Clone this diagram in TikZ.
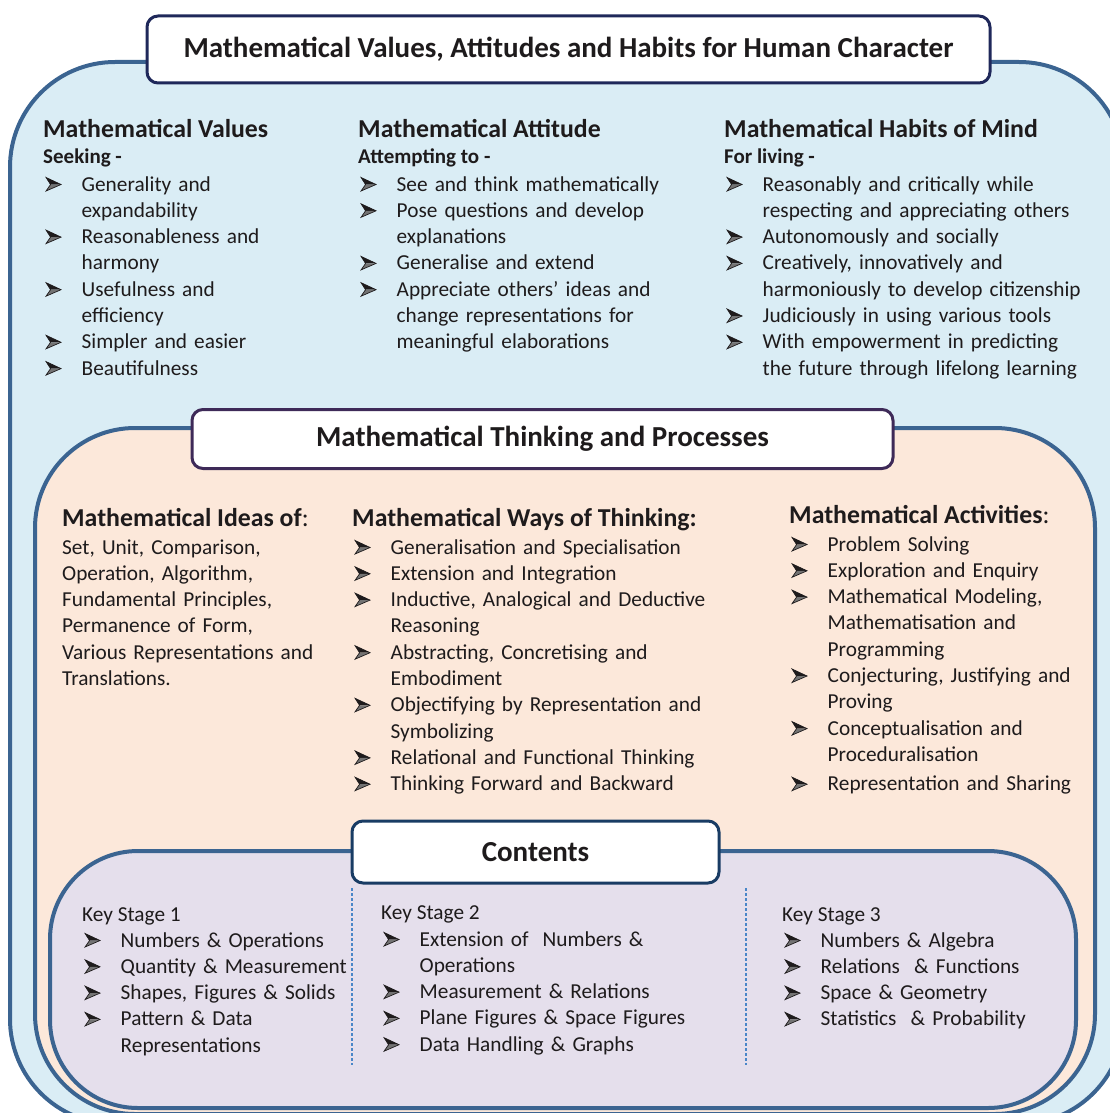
\documentclass[tikz,border=0pt]{standalone}
\usepackage{fontspec}
\setmainfont{Carlito}
\definecolor{outerfill}{RGB}{218,237,245}
\definecolor{peachfill}{RGB}{252,232,218}
\definecolor{lavfill}{RGB}{229,223,236}
\definecolor{bordblue}{RGB}{59,100,145}
\definecolor{tnavy}{RGB}{31,40,90}
\definecolor{tpurple}{RGB}{62,42,88}
\definecolor{tblue}{RGB}{25,60,100}
\definecolor{txt}{RGB}{30,27,28}
\definecolor{dashblue}{RGB}{74,134,200}
\newcommand\arrowglyph{\tikz[baseline=0pt,x=1pt,y=1pt]{%
  \fill[txt] (0,13.5) -- (15,6.5) -- (4.5,6.5) -- cycle;
  \fill[black!55] (0,0) -- (15,6.5) -- (4.5,6.5) -- cycle;
  \draw[txt, line width=0.7pt, line join=miter] (0,0) -- (15,6.5) -- (0,13.5) -- (4.5,6.5) -- cycle;}}
\newcommand\bul{\makebox[38.5pt][l]{\hspace{2.5pt}\arrowglyph}}
\newcommand\nl{\hfil\break}
\newcommand\itm[1]{\noindent\hangindent=38.5pt\hangafter=1\bul #1\par}
\tikzset{
  region/.style={line width=4pt, draw=bordblue},
  titlebox/.style={draw, fill=white, line width=3pt, rounded corners=11pt, inner sep=0pt,
    font=\bfseries\fontsize{29}{34}\selectfont, text=txt},
  heading/.style={anchor=base west, inner sep=0pt, text=txt, font=\bfseries\fontsize{25.8}{30}\selectfont},
  subhead/.style={anchor=base west, inner sep=0pt, text=txt, font=\bfseries\fontsize{21}{25}\selectfont},
  plain/.style={anchor=base west, inner sep=0pt, text=txt, font=\fontsize{21.3}{25}\selectfont},
  listbox/.style={anchor=base west, inner sep=0pt, text=txt, text width=380pt,
    font=\fontsize{21.3}{26.3}\selectfont\raggedright},
  sep/.style={draw=dashblue, line width=1.3pt, dash pattern=on 3pt off 2pt}
}
\begin{document}
\begin{tikzpicture}[x=1pt,y=-1pt]
\useasboundingbox (0,0) rectangle (1110,1113);
% regions
\path[region, fill=outerfill, rounded corners=105pt] (10,62) rectangle (1124,1124);
\path[region, fill=peachfill, rounded corners=100pt] (35,428) rectangle (1095,1114);
\node[titlebox, draw=tnavy, minimum width=843pt, minimum height=67pt] (t1) at (568.5,49.5)
  {Mathematical Values, Attitudes and Habits for Human Character};
\node[titlebox, draw=tpurple, minimum width=701pt, minimum height=59pt] (t2) at (542.5,439)
  {Mathematical Thinking and Processes};
\path[region, fill=lavfill, rounded corners=88pt] (50,851) rectangle (1076,1108);
\node[titlebox, draw=tblue, minimum width=367pt, minimum height=62pt] (t3) at (535.5,852)
  {Contents};
\coordinate (s1a) at (352,888); \coordinate (s1b) at (352,1065);
\coordinate (s2a) at (746,888); \coordinate (s2b) at (746,1065);
\draw[sep] (s1a) -- (s1b);
\draw[sep] (s2a) -- (s2b);
% top section
\node[heading] (h1) at (43,137) {Mathematical Values};
\node[subhead] (sh1) at (43,164) {Seeking -};
\node[listbox] (l1) at (43,191) {%
\itm{Generality and\nl expandability}%
\itm{Reasonableness and\nl harmony}%
\itm{Usefulness and\nl efficiency}%
\itm{Simpler and easier}%
\itm{Beautifulness}};
\node[heading] (h2) at (358,137) {Mathematical Attitude};
\node[subhead] (sh2) at (358,164) {Attempting to -};
\node[listbox] (l2) at (358,191) {%
\itm{See and think mathematically}%
\itm{Pose questions and develop\nl explanations}%
\itm{Generalise and extend}%
\itm{Appreciate others’ ideas and\nl change representations for\nl meaningful elaborations}};
\node[heading] (h3) at (724,137) {Mathematical Habits of Mind};
\node[subhead] (sh3) at (724,164) {For living -};
\node[listbox] (l3) at (724,191) {%
\itm{Reasonably and critically while\nl respecting and appreciating others}%
\itm{Autonomously and socially}%
\itm{Creatively, innovatively and\nl harmoniously to develop citizenship}%
\itm{Judiciously in using various tools}%
\itm{With empowerment in predicting\nl the future through lifelong learning}};
% middle section
\node[heading] (h4) at (62,526) {Mathematical Ideas of\mdseries:};
\node[listbox] (l4) at (62,554) {%
Set, Unit, Comparison,\nl Operation, Algorithm,\nl Fundamental Principles,\nl Permanence of Form,\nl Various Representations and\nl Translations.};
\node[heading] (h5) at (352,526) {Mathematical Ways of Thinking:};
\node[listbox] (l5) at (352,554) {%
\itm{Generalisation and Specialisation}%
\itm{Extension and Integration}%
\itm{Inductive, Analogical and Deductive\nl Reasoning}%
\itm{Abstracting, Concretising and\nl Embodiment}%
\itm{Objectifying by Representation and\nl Symbolizing}%
\itm{Relational and Functional Thinking}%
\itm{Thinking Forward and Backward}};
\node[heading] (h6) at (789,523) {Mathematical Activities\mdseries:};
\node[listbox] (l6) at (789,551) {%
\itm{Problem Solving}%
\itm{Exploration and Enquiry}%
\itm{Mathematical Modeling,\nl Mathematisation and\nl Programming}%
\itm{Conjecturing, Justifying and\nl Proving}%
\itm{Conceptualisation and\nl Proceduralisation}%
\vspace{3pt}%
\itm{Representation and Sharing}};
% bottom section
\node[plain] (k1) at (82,921) {Key Stage 1};
\node[listbox] (l7) at (82,947) {%
\itm{Numbers \& Operations}%
\itm{Quantity \& Measurement}%
\itm{Shapes, Figures \& Solids}%
\itm{Pattern \& Data\nl Representations}};
\node[plain] (k2) at (381,919) {Key Stage 2};
\node[listbox] (l8) at (381,946) {%
\itm{Extension of\ \ Numbers \&\nl Operations}%
\itm{Measurement \& Relations}%
\itm{Plane Figures \& Space Figures}%
\itm{Data Handling \& Graphs}};
\node[plain] (k3) at (782,921) {Key Stage 3};
\node[listbox] (l9) at (782,947) {%
\itm{Numbers \& Algebra}%
\itm{Relations\ \ \& Functions}%
\itm{Space \& Geometry}%
\itm{Statistics\ \ \& Probability}};
\end{tikzpicture}
\end{document}
